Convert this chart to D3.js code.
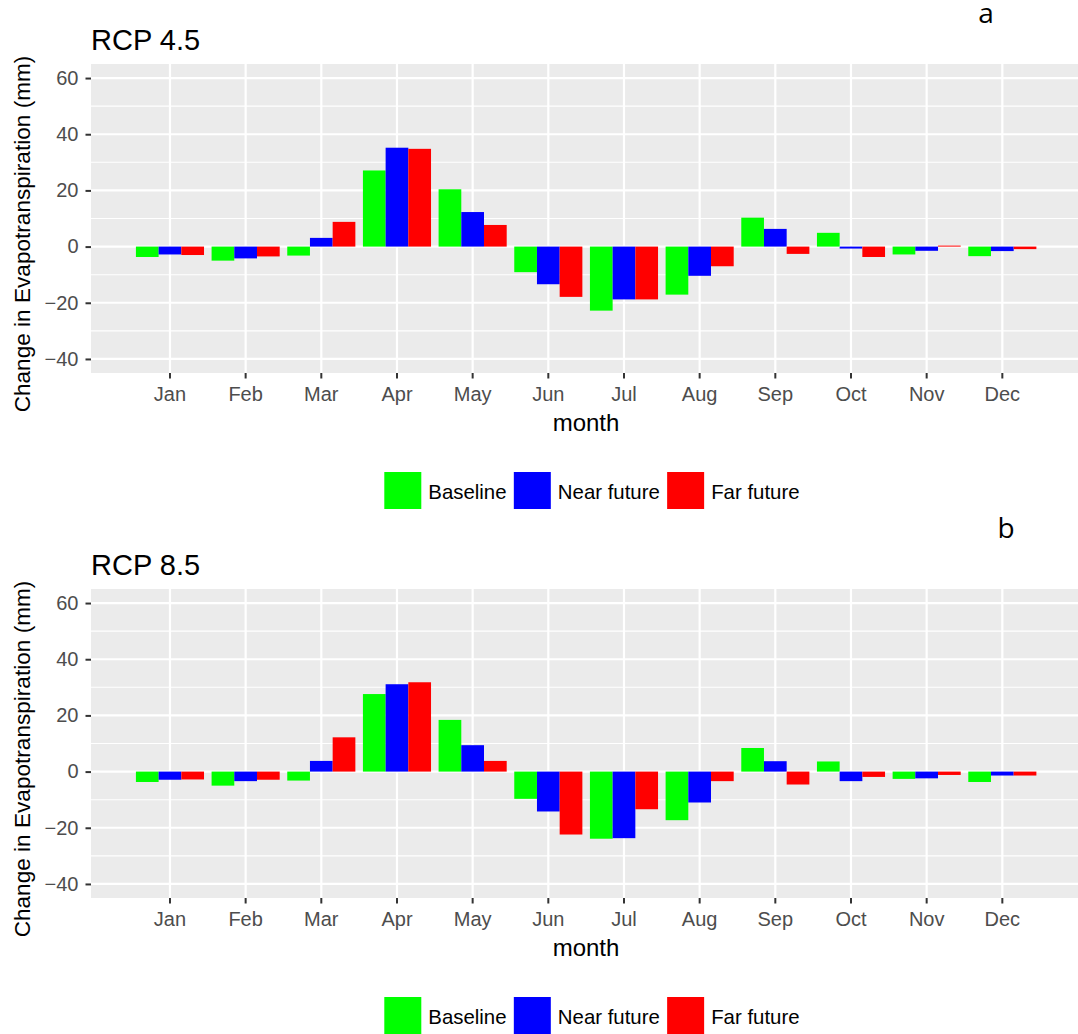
<!DOCTYPE html>
<html>
<head>
<meta charset="utf-8">
<script src="https://cdn.jsdelivr.net/npm/d3@7"></script>
<style>
  body { margin: 0; background: #fff; }
  svg { display: block; font-family: "Liberation Sans", Arial, sans-serif; }
</style>
</head>
<body>
<div id="chart"></div>
<script>

// data
const months = ['Jan', 'Feb', 'Mar', 'Apr', 'May', 'Jun', 'Jul', 'Aug', 'Sep', 'Oct', 'Nov', 'Dec'];
const seriesNames = ['Baseline', 'Near future', 'Far future'];
const seriesColors = ['#00FF00', '#0000FF', '#FF0000'];
const yTicks = [-40, -20, 0, 20, 40, 60];
const yMinor = [-30, -10, 10, 30, 50];

const rcp45Baseline = [-3.7, -5.0, -3.2, 27.1, 20.4, -9.1, -22.8, -17.1, 10.3, 4.9, -2.8, -3.4];
const rcp45Near = [-2.8, -4.2, 3.1, 35.2, 12.3, -13.4, -18.8, -10.4, 6.3, -0.7, -1.5, -1.6];
const rcp45Far = [-3.0, -3.5, 8.8, 34.8, 7.7, -17.9, -18.8, -7.0, -2.6, -3.7, 0.35, -0.9];

const rcp85Baseline = [-3.7, -5.0, -3.2, 27.6, 18.4, -9.7, -23.9, -17.3, 8.4, 3.6, -2.6, -3.7];
const rcp85Near = [-2.9, -3.4, 3.8, 31.1, 9.4, -14.2, -23.7, -11.0, 3.7, -3.4, -2.4, -1.4];
const rcp85Far = [-2.8, -2.9, 12.2, 31.8, 3.8, -22.4, -13.4, -3.4, -4.6, -1.9, -1.2, -1.4];

const W = 1078, H = 1034;

let svg = d3.select('#chart')
    .append('svg')
    .attr('width', W)
    .attr('height', H);

function drawPanel(svgElement, offsetY, title, letter, letterX, letterY, seriesValues) {

    let g = svgElement.append('g').attr('transform', 'translate(0,' + offsetY + ')');

    let top = 64, bottom = 373, left = 91, right = 1078;

    // the panel runs past the right edge of the picture, so the band range
    // starts a little right of the panel's left edge
    let x = d3.scaleBand()
        .domain(months)
        .range([94.3, 1078])
        .paddingInner(0.1)
        .paddingOuter(0.55);

    let x1 = d3.scaleBand()
        .domain(seriesNames)
        .range([0, x.bandwidth()]);

    let y = d3.scaleLinear()
        .domain([-45, 65])
        .range([bottom, top]);

    // panel background
    g.append('rect')
        .attr('x', left).attr('y', top)
        .attr('width', right - left).attr('height', bottom - top)
        .attr('fill', '#EBEBEB');

    // grid
    g.selectAll('.minor')
        .data(yMinor).enter()
        .append('line')
        .attr('x1', left).attr('x2', right)
        .attr('y1', d => y(d)).attr('y2', d => y(d))
        .attr('stroke', '#fff').attr('stroke-width', 1.1);

    g.selectAll('.major')
        .data(yTicks).enter()
        .append('line')
        .attr('x1', left).attr('x2', right)
        .attr('y1', d => y(d)).attr('y2', d => y(d))
        .attr('stroke', '#fff').attr('stroke-width', 2.2);

    g.selectAll('.vgrid')
        .data(months).enter()
        .append('line')
        .attr('x1', d => x(d) + x.bandwidth() / 2).attr('x2', d => x(d) + x.bandwidth() / 2)
        .attr('y1', top).attr('y2', bottom)
        .attr('stroke', '#fff').attr('stroke-width', 2.2);

    // bars
    let rows = months.map((m, i) => ({
        month: m,
        values: seriesNames.map((s, j) => ({ name: s, color: seriesColors[j], value: seriesValues[j][i] }))
    }));

    g.selectAll('.group')
        .data(rows).enter()
        .append('g')
        .attr('transform', d => 'translate(' + x(d.month) + ',0)')
        .selectAll('rect')
        .data(d => d.values).enter()
        .append('rect')
        .attr('x', d => x1(d.name))
        .attr('width', x1.bandwidth())
        .attr('y', d => y(Math.max(0, d.value)))
        .attr('height', d => Math.abs(y(d.value) - y(0)))
        .attr('fill', d => d.color);

    // axes
    let yAxis = g.append('g')
        .attr('transform', 'translate(' + left + ',0)')
        .call(d3.axisLeft(y).tickValues(yTicks).tickSize(5.5).tickPadding(7));
    let xAxis = g.append('g')
        .attr('transform', 'translate(0,' + bottom + ')')
        .call(d3.axisBottom(x).tickSize(5.5).tickPadding(8));

    [yAxis, xAxis].forEach(a => {
        a.select('.domain').remove();
        a.selectAll('line').attr('stroke', '#333333').attr('stroke-width', 2);
        a.selectAll('text').attr('fill', '#4D4D4D').style('font-size', '20px');
    });

    // titles
    g.append('text')
        .attr('x', 91).attr('y', 50)
        .style('font-size', '29px')
        .attr('fill', '#000')
        .text(title);

    g.append('text')
        .attr('x', 586).attr('y', 431)
        .attr('text-anchor', 'middle')
        .style('font-size', '24px')
        .attr('fill', '#000')
        .text('month');

    g.append('text')
        .attr('transform', 'translate(30,234) rotate(-90)')
        .attr('text-anchor', 'middle')
        .style('font-size', '22.6px')
        .attr('fill', '#000')
        .text('Change in Evapotranspiration (mm)');

    g.append('text')
        .attr('x', letterX).attr('y', letterY)
        .attr('text-anchor', 'middle')
        .style('font-family', '"Open Sans", sans-serif')
        .style('font-size', '28px')
        .attr('fill', '#000')
        .text(letter);

    // legend
    let lx = 384.3;
    seriesNames.forEach((s, j) => {
        g.append('rect')
            .attr('x', lx).attr('y', 472)
            .attr('width', 37).attr('height', 37)
            .attr('fill', seriesColors[j]);
        let t = g.append('text')
            .attr('x', lx + 44).attr('y', 499)
            .style('font-size', '20.4px')
            .attr('fill', '#000')
            .text(s);
        lx = lx + 44 + t.node().getComputedTextLength() + 7.3;
    });
}

try {
    drawPanel(svg, 0, 'RCP 4.5', 'a', 986, 23, [rcp45Baseline, rcp45Near, rcp45Far]);
    drawPanel(svg, 525, 'RCP 8.5', 'b', 1006, 13, [rcp85Baseline, rcp85Near, rcp85Far]);
} catch (error) {
    console.log('drawPanel error: ' + error);
}

</script>
</body>
</html>
